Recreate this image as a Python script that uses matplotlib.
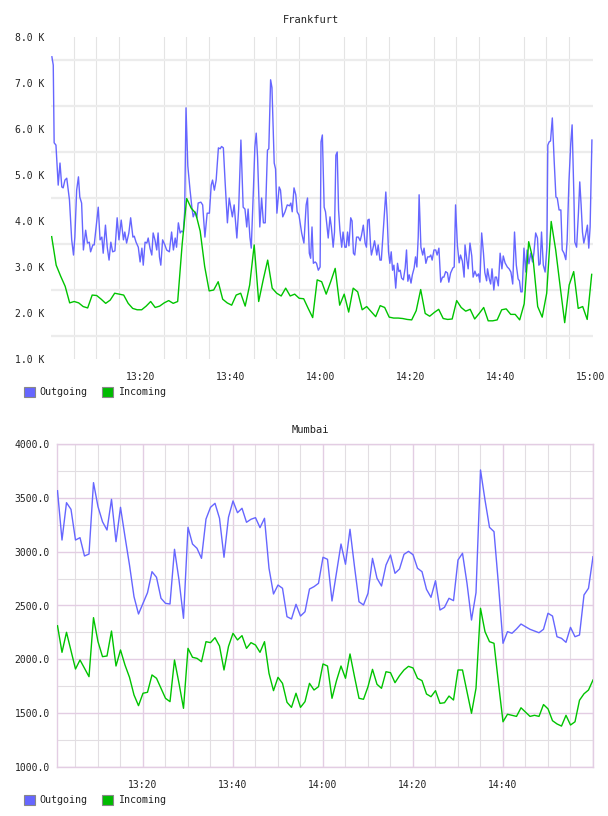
import numpy as np
import matplotlib
matplotlib.use("Agg")
import matplotlib.pyplot as plt
from matplotlib.patches import Rectangle
from matplotlib.ticker import FixedLocator, MultipleLocator

W, H = 608, 816
MONO = "DejaVu Sans Mono"
BLUE = "#6666ff"
GREEN = "#00c400"

# ---------------- Frankfurt (values in thousands, time in minutes after 13:00)
fra_out_t = [
    0.2, 0.5, 0.7, 1.1, 1.6, 2.0, 2.4, 2.7, 3.1, 3.5,
    4.1, 4.6, 5.0, 5.3, 5.7, 6.1, 6.4, 6.8, 7.2, 7.7,
    8.1, 8.5, 8.8, 9.3, 9.6, 10.2, 10.5, 10.9, 11.3, 11.6,
    12.1, 12.5, 12.9, 13.3, 13.7, 14.2, 14.7, 15.1, 15.6, 16.1,
    16.4, 16.8, 17.3, 17.7, 18.2, 18.5, 18.9, 19.4, 19.8, 20.2,
    20.5, 20.9, 21.3, 21.6, 22.0, 22.4, 22.7, 23.1, 23.5, 23.8,
    24.1, 24.4, 24.8, 25.3, 25.7, 26.3, 26.8, 27.2, 27.6, 27.9,
    28.3, 28.7, 29.0, 29.4, 29.7, 30.0, 30.4, 30.9, 31.3, 31.6,
    32.0, 32.4, 32.7, 33.3, 33.7, 34.2, 34.7, 35.2, 35.6, 35.9,
    36.3, 36.7, 37.2, 37.6, 37.9, 38.3, 38.7, 39.2, 39.6, 39.9,
    40.3, 40.7, 41.3, 41.7, 42.2, 42.7, 43.1, 43.5, 43.8, 44.2,
    44.5, 45.0, 45.3, 45.6, 45.9, 46.4, 46.8, 47.2, 47.6, 48.1,
    48.4, 48.8, 49.1, 49.6, 49.9, 50.2, 50.7, 51.0, 51.5, 52.0,
    52.5, 53.0, 53.3, 53.6, 54.0, 54.4, 54.7, 55.1, 55.7, 56.2,
    56.7, 57.0, 57.4, 57.7, 58.0, 58.3, 58.7, 59.0, 59.4, 59.8,
    60.0, 60.3, 60.7, 61.0, 61.6, 62.0, 62.3, 62.7, 63.0, 63.3,
    63.6, 63.9, 64.2, 64.6, 64.9, 65.3, 65.6, 65.9, 66.2, 66.6,
    66.9, 67.2, 67.5, 67.9, 68.3, 68.7, 69.0, 69.4, 69.8, 70.1,
    70.4, 70.7, 71.0, 71.2, 71.6, 71.9, 72.4, 72.7, 73.1, 73.4,
    73.8, 74.2, 74.4, 74.7, 75.0, 75.3, 75.6, 75.9, 76.2, 76.6,
    77.0, 77.3, 77.6, 77.9, 78.3, 78.7, 79.0, 79.3, 79.6, 80.0,
    80.3, 80.7, 81.0, 81.3, 81.6, 81.8, 82.2, 82.6, 82.9, 83.3,
    83.7, 84.1, 84.4, 84.7, 85.1, 85.5, 85.8, 86.2, 86.6, 87.0,
    87.3, 87.7, 88.1, 88.4, 88.8, 89.3, 89.6, 89.9, 90.3, 90.7,
    91.0, 91.4, 91.8, 92.0, 92.4, 92.7, 93.1, 93.5, 93.8, 94.2,
    94.6, 95.0, 95.3, 95.7, 96.1, 96.4, 96.8, 97.0, 97.4, 97.7,
    98.0, 98.4, 98.7, 99.0, 99.4, 99.8, 100.2, 100.5, 100.9, 101.4,
    101.8, 102.2, 102.6, 103.0, 103.4, 103.8, 104.1, 104.4, 104.7, 105.1,
    105.5, 105.8, 106.2, 106.6, 107.0, 107.3, 107.7, 108.1, 108.4, 108.7,
    109.0, 109.4, 109.8, 110.2, 110.4, 110.7, 111.0, 111.4, 111.8, 112.2,
    112.5, 112.9, 113.3, 113.6, 114.0, 114.4, 114.7, 115.1, 115.5, 115.8,
    116.2, 116.4, 116.8, 117.2, 117.5, 117.8, 118.1, 118.4, 118.8, 119.2,
    119.5, 119.8, 120.2,
]
fra_out_v = [
    7.57, 7.39, 5.70, 5.65, 4.78, 5.26, 4.74, 4.72, 4.89, 4.93,
    4.46, 3.59, 3.26, 3.65, 4.67, 4.96, 4.52, 4.39, 3.37, 3.80,
    3.52, 3.54, 3.33, 3.48, 3.48, 4.02, 4.30, 3.59, 3.65, 3.30,
    3.91, 3.43, 3.15, 3.54, 3.33, 3.35, 4.07, 3.59, 4.02, 3.59,
    3.76, 3.52, 3.74, 4.07, 3.65, 3.67, 3.54, 3.43, 3.11, 3.41,
    3.04, 3.54, 3.52, 3.63, 3.41, 3.26, 3.74, 3.59, 3.37, 3.74,
    3.22, 3.04, 3.59, 3.48, 3.37, 3.33, 3.76, 3.37, 3.63, 3.43,
    3.96, 3.74, 3.78, 3.76, 4.20, 6.46, 5.20, 4.67, 4.30, 4.09,
    4.20, 4.07, 4.39, 4.41, 4.35, 3.65, 4.17, 4.17, 4.78, 4.89,
    4.67, 4.89, 5.59, 5.57, 5.62, 5.59, 4.83, 3.96, 4.50, 4.33,
    4.09, 4.35, 3.63, 4.26, 5.76, 4.30, 4.26, 3.87, 4.26, 3.65,
    3.41, 4.74, 5.61, 5.91, 5.39, 3.87, 4.50, 3.96, 3.96, 5.54,
    5.57, 7.07, 6.90, 5.26, 5.13, 4.17, 4.74, 4.67, 4.09, 4.20,
    4.35, 4.33, 4.39, 4.20, 4.72, 4.57, 4.20, 4.13, 3.74, 3.52,
    4.35, 4.50, 3.30, 3.19, 3.87, 3.08, 3.11, 3.08, 2.93, 3.00,
    5.72, 5.87, 4.30, 4.20, 3.63, 4.09, 3.87, 3.43, 3.76, 5.43,
    5.50, 4.24, 3.80, 3.43, 3.76, 3.43, 3.43, 3.76, 3.46, 4.07,
    4.00, 3.30, 3.26, 3.65, 3.65, 3.57, 3.69, 3.91, 3.52, 3.43,
    4.02, 4.04, 3.48, 3.26, 3.43, 3.57, 3.26, 3.48, 3.15, 3.15,
    3.74, 4.30, 4.63, 4.09, 3.33, 3.08, 3.33, 2.93, 3.04, 2.54,
    3.08, 2.90, 2.93, 2.76, 2.72, 2.98, 3.37, 2.69, 2.83, 2.65,
    2.83, 2.98, 3.22, 3.00, 3.65, 4.57, 3.43, 3.26, 3.41, 3.08,
    3.22, 3.22, 3.26, 3.15, 3.37, 3.37, 3.26, 3.41, 2.67, 2.78,
    2.78, 2.90, 2.87, 2.67, 2.87, 2.98, 3.00, 4.35, 3.48, 3.09,
    3.26, 3.13, 2.78, 3.48, 3.16, 2.96, 3.52, 3.24, 2.78, 2.91,
    2.80, 2.85, 2.67, 3.74, 3.30, 2.88, 2.70, 2.96, 2.74, 2.63,
    2.96, 2.50, 2.78, 2.78, 2.59, 3.30, 2.96, 3.24, 3.09, 3.00,
    2.96, 2.89, 2.63, 3.76, 3.04, 2.74, 2.70, 2.46, 2.46, 3.41,
    2.89, 3.37, 3.07, 3.30, 3.11, 3.30, 3.74, 3.63, 3.04, 3.07,
    3.76, 3.04, 2.89, 3.43, 5.65, 5.72, 5.74, 6.24, 5.33, 4.52,
    4.50, 4.24, 4.24, 3.37, 3.30, 3.16, 3.59, 4.87, 5.69, 6.09,
    4.52, 3.54, 3.43, 4.17, 4.85, 4.35, 3.76, 3.52, 3.70, 3.91,
    3.41, 3.87, 5.76,
]
fra_in_start = 0.15  # minutes after 13:00, one sample per minute
fra_in_v = [
    3.66, 3.04, 2.80, 2.58, 2.22, 2.25, 2.22, 2.14, 2.11, 2.39,
    2.38, 2.30, 2.21, 2.28, 2.43, 2.41, 2.39, 2.21, 2.10, 2.07,
    2.07, 2.15, 2.25, 2.12, 2.15, 2.22, 2.27, 2.21, 2.25, 3.50,
    4.49, 4.28, 4.17, 3.78, 3.01, 2.48, 2.50, 2.68, 2.30, 2.22,
    2.17, 2.39, 2.43, 2.15, 2.61, 3.48, 2.25, 2.72, 3.15, 2.54,
    2.43, 2.37, 2.54, 2.37, 2.41, 2.32, 2.31, 2.10, 1.90, 2.72,
    2.68, 2.41, 2.68, 2.97, 2.17, 2.41, 2.02, 2.54, 2.46, 2.07,
    2.14, 2.03, 1.92, 2.16, 2.12, 1.91, 1.89, 1.89, 1.88, 1.86,
    1.85, 2.05, 2.51, 1.99, 1.93, 2.01, 2.08, 1.88, 1.86, 1.87,
    2.27, 2.12, 2.04, 2.08, 1.87, 1.99, 2.12, 1.83, 1.83, 1.85,
    2.07, 2.09, 1.97, 1.97, 1.85, 2.20, 3.55, 3.15, 2.14, 1.91,
    2.43, 3.99, 3.37, 2.57, 1.79, 2.61, 2.90, 2.10, 2.14, 1.86,
    2.84,
]

# ---------------- Mumbai (one sample per minute, starting 13:01)
mum_start = 1
mum_out = [
    3566, 3108, 3455, 3393, 3108, 3130, 2960, 2978, 3641, 3418,
    3278, 3201, 3486, 3093, 3412, 3139, 2876, 2582, 2421, 2520,
    2619, 2814, 2762, 2567, 2520, 2514, 3022, 2737, 2381, 3226,
    3071, 3031, 2938, 3303, 3412, 3449, 3310, 2948, 3320, 3471,
    3362, 3403, 3273, 3301, 3316, 3223, 3310, 2846, 2607, 2690,
    2660, 2396, 2375, 2511, 2402, 2442, 2653, 2675, 2706, 2948,
    2929, 2542, 2805, 3071, 2883, 3208, 2861, 2535, 2505, 2613,
    2938, 2753, 2681, 2876, 2969, 2799, 2839, 2975, 3003, 2972,
    2846, 2814, 2650, 2576, 2730, 2458, 2483, 2567, 2545, 2923,
    2985, 2706, 2365, 2619, 3759, 3480, 3226, 3186, 2690, 2149,
    2257, 2242, 2282, 2328, 2303, 2279, 2263, 2247, 2279, 2428,
    2402, 2210, 2195, 2158, 2297, 2210, 2226, 2598, 2660, 2953,
]
mum_in = [
    2312, 2065, 2251, 2080, 1910, 1994, 1917, 1839, 2387, 2164,
    2025, 2031, 2263, 1938, 2087, 1947, 1833, 1669, 1570, 1685,
    1694, 1855, 1824, 1731, 1638, 1607, 1994, 1777, 1545, 2102,
    2019, 2009, 1978, 2164, 2155, 2201, 2124, 1901, 2120, 2242,
    2180, 2220, 2102, 2155, 2133, 2065, 2164, 1870, 1709, 1833,
    1777, 1601, 1554, 1685, 1554, 1607, 1777, 1715, 1746, 1957,
    1938, 1638, 1802, 1938, 1824, 2050, 1839, 1638, 1629, 1746,
    1907, 1768, 1731, 1885, 1876, 1783, 1848, 1901, 1935, 1920,
    1824, 1802, 1678, 1653, 1709, 1591, 1597, 1659, 1622, 1901,
    1901, 1699, 1499, 1731, 2474, 2257, 2164, 2149, 1777, 1420,
    1490, 1480, 1470, 1550, 1510, 1470, 1480, 1470, 1580, 1540,
    1430, 1400, 1380, 1480, 1390, 1420, 1620, 1680, 1715, 1808,
]

series_names = ["Outgoing", "Incoming"]
time_labels_top = [20, 40, 60, 80, 100, 120]
time_labels_bottom = [20, 40, 60, 80, 100]


def hhmm(m):
    m = int(round(m))
    return f"{13 + m // 60}:{m % 60:02d}"


fig = plt.figure(figsize=(W / 100, H / 100), dpi=100)
fig.patch.set_facecolor("white")


def fx(px):
    return px / W


def fy(py):
    return 1 - py / H


# ---------- top panel
ax1 = fig.add_axes([fx(51), fy(359), fx(593) - fx(51), fy(37) - fy(359)])
n = min(len(fra_out_t), len(fra_out_v))
ax1.plot(fra_out_t[:n], fra_out_v[:n], color=BLUE, lw=1.0, zorder=3)
fra_in_t = fra_in_start + np.arange(len(fra_in_v))
ax1.plot(fra_in_t, fra_in_v, color=GREEN, lw=1.0, zorder=3)
ax1.set_xlim(0, 120.44)
ax1.set_ylim(1, 8)
ax1.yaxis.set_major_locator(FixedLocator(range(1, 9)))
ax1.set_yticklabels([f"{v:.1f} K" for v in range(1, 9)])
ax1.yaxis.set_minor_locator(FixedLocator(np.arange(1.5, 8, 1.0)))
ax1.xaxis.set_major_locator(FixedLocator(time_labels_top))
ax1.set_xticklabels([hhmm(m) for m in time_labels_top])
ax1.xaxis.set_minor_locator(FixedLocator(np.arange(5, 121, 5)))
ax1.grid(which="minor", axis="y", color="#ececec", lw=1.6, zorder=0)
ax1.grid(which="minor", axis="x", color="#e4e4e4", lw=0.8, zorder=0)
ax1.tick_params(which="both", length=0)
ax1.tick_params(axis="y", pad=5)
ax1.tick_params(axis="x", pad=9)
for s in ax1.spines.values():
    s.set_visible(False)
for lab in ax1.get_xticklabels() + ax1.get_yticklabels():
    lab.set_fontfamily(MONO)
    lab.set_fontsize(7)
    lab.set_color("#222222")
fig.text(fx(311), fy(20), "Frankfurt", ha="center", va="center",
         family=MONO, fontsize=7.5, color="#222222")

# ---------- bottom panel
PINK = "#e3cde3"
ax2 = fig.add_axes([fx(57), fy(767), fx(593) - fx(57), fy(444) - fy(767)])
t2 = mum_start + np.arange(len(mum_out))
ax2.plot(t2, mum_out, color=BLUE, lw=1.0, zorder=3)
ax2.plot(mum_start + np.arange(len(mum_in)), mum_in, color=GREEN, lw=1.0, zorder=3)
ax2.set_xlim(0.889, 120)
ax2.set_ylim(1000, 4000)
ax2.yaxis.set_major_locator(MultipleLocator(500))
ax2.yaxis.set_minor_locator(MultipleLocator(250))
ax2.yaxis.set_major_formatter(matplotlib.ticker.FuncFormatter(lambda v, p: f"{v:.1f}"))
ax2.xaxis.set_major_locator(FixedLocator([20, 40, 60, 80, 100, 120]))
ax2.set_xticklabels([hhmm(m) for m in time_labels_bottom] + [""])
ax2.xaxis.set_minor_locator(FixedLocator(np.arange(5, 120, 5)))
ax2.grid(which="minor", color="#e2dee2", lw=0.8, zorder=0)
ax2.grid(which="major", color=PINK, lw=1.0, zorder=1)
ax2.tick_params(which="both", length=0)
ax2.tick_params(axis="y", pad=5)
ax2.tick_params(axis="x", pad=9)
for s in ax2.spines.values():
    s.set_color(PINK)
    s.set_linewidth(1.0)
for lab in ax2.get_xticklabels() + ax2.get_yticklabels():
    lab.set_fontfamily(MONO)
    lab.set_fontsize(7)
    lab.set_color("#222222")
fig.text(fx(310), fy(430), "Mumbai", ha="center", va="center",
         family=MONO, fontsize=7.5, color="#222222")


# ---------- legends
def legend(yc):
    for (x0, tx), col, name in zip([(24, 39), (102, 118)], [BLUE, "#00bb00"], series_names):
        fig.add_artist(Rectangle((fx(x0), fy(yc + 5)), fx(11), 10 / H,
                                 transform=fig.transFigure, facecolor=col,
                                 edgecolor="#888888", lw=0.8))
        fig.text(fx(tx), fy(yc), name, ha="left", va="center",
                 family=MONO, fontsize=7.2, color="#222222")


legend(392)
legend(800)

fig.savefig("out.png", dpi=100)
